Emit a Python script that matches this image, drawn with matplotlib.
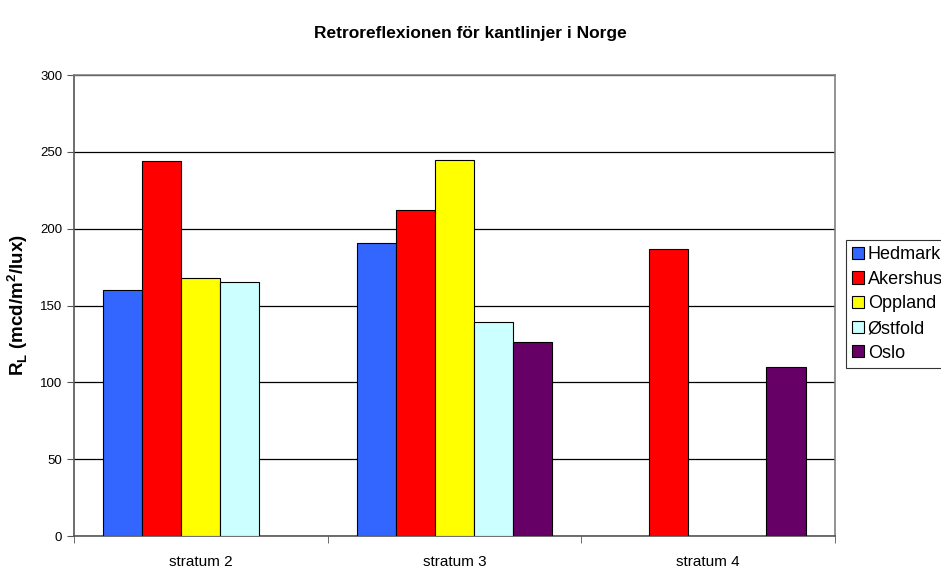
import matplotlib.pyplot as plt
import numpy as np

plt.rcParams['font.family'] = ['Liberation Sans', 'DejaVu Sans']

# === Data ===
kategorier = ['stratum 2', 'stratum 3', 'stratum 4']
serier = ['Hedmark', 'Akershus', 'Oppland', 'Østfold', 'Oslo']
hedmark = [160, 191, np.nan]
akershus = [244, 212, 187]
oppland = [168, 245, np.nan]
ostfold = [165, 139, np.nan]
oslo = [np.nan, 126, 110]
farger = ['#3366FF', '#FF0000', '#FFFF00', '#CCFFFF', '#660066']

verdier = [hedmark, akershus, oppland, ostfold, oslo]

fig = plt.figure(figsize=(9.41, 5.7), dpi=100)
ax = fig.add_axes([0.0786, 0.0596, 0.8084, 0.8088])

x = np.arange(len(kategorier))
bredde = 0.154
for i, (navn, v, c) in enumerate(zip(serier, verdier, farger)):
    ax.bar(x + (i - 2) * bredde, v, width=bredde, color=c, edgecolor='black',
           linewidth=0.8, label=navn, zorder=3)

ax.set_xlim(-0.5, 2.5)
ax.set_ylim(0, 300)
ax.set_yticks(np.arange(0, 301, 50))
ax.yaxis.grid(True, color='black', linewidth=0.9, zorder=0)
ax.set_xticks(x)
ax.set_xticklabels(kategorier, fontsize=11)
ax.set_xticks(np.arange(-0.5, 2.6, 1), minor=True)
ax.tick_params(axis='x', which='major', length=0, pad=14)
ax.tick_params(axis='x', which='minor', length=5, color='#555555')
ax.tick_params(axis='y', labelsize=9.5, length=5, color='#555555')
for s in ax.spines.values():
    s.set_color('#808080')
    s.set_linewidth(1.2)
ax.spines['left'].set_color('#555555')
ax.spines['bottom'].set_color('#555555')

ax.set_ylabel(r'R$_\mathregular{L}$ (mcd/m$^\mathregular{2}$/lux)', fontsize=13.5,
              fontweight='bold', labelpad=7)
fig.text(0.5, 0.942, 'Retroreflexionen för kantlinjer i Norge', ha='center',
         va='center', fontsize=12.5, fontweight='bold')

leg = ax.legend(loc='upper left', bbox_to_anchor=(846 / 941, 1 - 240 / 570),
                bbox_transform=fig.transFigure, fontsize=13, frameon=True,
                fancybox=False, edgecolor='black', handlelength=0.66,
                handleheight=0.66, handletextpad=0.2, borderpad=0.35,
                labelspacing=0.42, borderaxespad=0)
leg.get_frame().set_linewidth(0.8)

plt.savefig('out.png', dpi=100)
